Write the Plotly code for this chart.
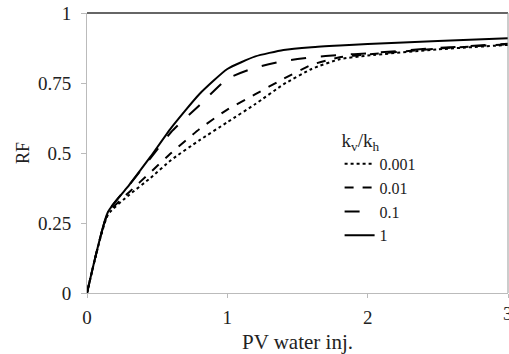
import plotly.graph_objects as go

pv = [0, 0.15, 0.3, 0.45, 0.6, 0.8, 1.0, 1.2, 1.4, 1.6, 1.8, 2.0, 2.5, 3.0]
rf_0001 = [0, 0.28, 0.35, 0.41, 0.475, 0.545, 0.61, 0.675, 0.745, 0.80, 0.835, 0.848, 0.87, 0.886]
rf_001 = [0, 0.285, 0.36, 0.43, 0.50, 0.585, 0.655, 0.71, 0.765, 0.815, 0.842, 0.852, 0.873, 0.888]
rf_01 = [0, 0.29, 0.385, 0.48, 0.575, 0.67, 0.765, 0.805, 0.828, 0.842, 0.85, 0.856, 0.875, 0.89]
rf_1 = [0, 0.29, 0.385, 0.485, 0.59, 0.71, 0.80, 0.845, 0.868, 0.878, 0.884, 0.889, 0.90, 0.91]

series = [("0.001", rf_0001, "dot"), ("0.01", rf_001, "dash"), ("0.1", rf_01, "longdash"), ("1", rf_1, "solid")]

fig = go.Figure()
for name, ys, dash in series:
    fig.add_trace(go.Scatter(x=pv, y=ys, name=name, mode="lines",
                             line=dict(color="black", width=2, dash=dash, shape="spline", smoothing=0.5)))

font = "Liberation Serif"
fig.update_layout(
    width=509, height=354,
    margin=dict(l=87, r=1, t=13, b=61),
    paper_bgcolor="white", plot_bgcolor="white",
    font=dict(family=font, color="#222", size=17),
    xaxis=dict(range=[0, 3], tickvals=[0, 1, 2, 3], showgrid=False, zeroline=False,
               showline=True, linecolor="#bbb", linewidth=1, ticks="outside", ticklen=4,
               tickcolor="#bbb", tickfont=dict(family=font, size=19), ticklabelstandoff=3,
               title=dict(text="PV water inj.", font=dict(family=font, size=21), standoff=7)),
    yaxis=dict(range=[0, 1], tickvals=[0, 0.25, 0.5, 0.75, 1], ticktext=["0", "0.25", "0.5", "0.75", "1"],
               showgrid=False, zeroline=False, showline=True, linecolor="#bbb", linewidth=1,
               ticks="outside", ticklen=5, tickcolor="#bbb", tickfont=dict(family=font, size=19),
               ticklabelstandoff=6,
               title=dict(text="RF", font=dict(family=font, size=18), standoff=3)),
    legend=dict(x=0.600, y=0.61, xanchor="left", yanchor="top", bgcolor="rgba(0,0,0,0)",
                font=dict(family=font, size=16), tracegroupgap=0, itemwidth=30,
                title=dict(text="k<sub>v</sub>/k<sub>h</sub>", font=dict(family=font, size=19))),
    shapes=[
        dict(type="line", xref="paper", yref="paper", x0=0, x1=1, y0=1, y1=1,
             line=dict(color="#333", width=1.5)),
        dict(type="line", xref="paper", yref="paper", x0=1, x1=1, y0=0, y1=1,
             line=dict(color="#999", width=1)),
    ],
    annotations=[dict(x=3, y=0, xref="x", yref="paper", text="3", showarrow=False,
                      yanchor="top", yshift=-8, font=dict(family=font, size=19, color="#222"))],
)

fig.write_html("out.html")
